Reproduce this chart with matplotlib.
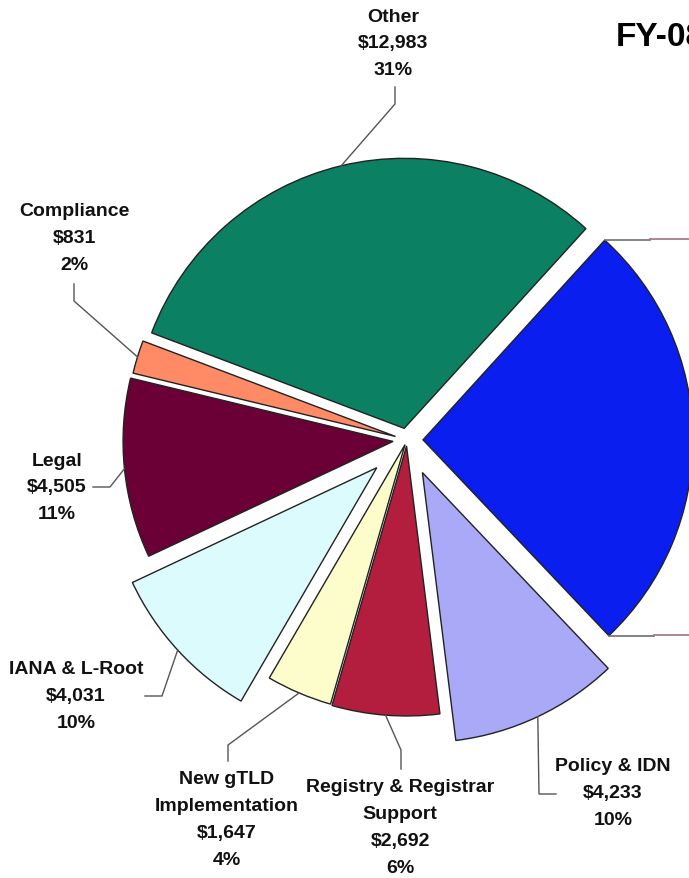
import numpy as np
import matplotlib.pyplot as plt

W, H = 689, 879  # output size in pixels (dpi 100)

# Data (USD thousands). First slice is the part broken out to the right (label off-image).
categories = ['Detail', 'Other', 'Compliance', 'Legal', 'IANA & L-Root',
              'New gTLD\nImplementation', 'Registry & Registrar\nSupport', 'Policy & IDN']
values = [10958, 12983, 831, 4505, 4031, 1647, 2692, 4233]
colors = ['#0a1ef0', '#0b8062', '#ff8a66', '#6b0036', '#dcfbfc', '#fdfccb', '#b31e3e', '#a9a9f7']
explode = [16, 12, 12, 14, 41, 5, 6, 36]  # in pixels, pie radius is 270

# label layout in image pixels: text centre x, first line y, leader elbow points
label_pos = {
    'Other': (393, 17, [(395, 88), (395, 105)]),
    'Compliance': (74, 212, [(74, 285), (74, 302)]),
    'Legal': (57, 461, [(93, 488), (110, 488)]),
    'IANA & L-Root': (76, 670, [(145, 697), (162, 697)]),
    'New gTLD\nImplementation': (227, 780, [(228, 762), (228, 746)]),
    'Registry & Registrar\nSupport': (400, 788, [(401, 770), (401, 751)]),
    'Policy & IDN': (613, 767, [(556, 795), (539, 795)]),
}

plt.rcParams['font.family'] = ['Liberation Sans', 'DejaVu Sans']

fig = plt.figure(figsize=(W / 100, H / 100), dpi=100)
ax = fig.add_axes([0, 0, 1, 1])

wedges, _ = ax.pie(values, colors=colors, explode=explode, radius=270,
                   center=(407, H - 441), startangle=-46.5, counterclock=True,
                   wedgeprops=dict(edgecolor='#222222', linewidth=1))
ax.set_xlim(0, W)
ax.set_ylim(0, H)
ax.set_aspect('equal')
ax.axis('off')

total = sum(values)

# labels with leader lines to the middle of each arc
for w, name, v in zip(wedges, categories, values):
    if name not in label_pos:
        continue
    tx, ty, elbow = label_pos[name]
    lines = name.split('\n') + [f'${v:,}', f'{round(100 * v / total)}%']
    for i, s in enumerate(lines):
        ax.text(tx, H - (ty + i * 26.8), s, ha='center', va='center',
                fontsize=14, fontweight='bold', color='#111111')
    mid = np.deg2rad((w.theta1 + w.theta2) / 2)
    cx, cy = w.center
    ax_pt = (cx + w.r * np.cos(mid), cy + w.r * np.sin(mid))
    xs = [p[0] for p in elbow] + [ax_pt[0]]
    ys = [H - p[1] for p in elbow] + [ax_pt[1]]
    ax.plot(xs, ys, color='#555555', lw=1)

# connector lines of the broken-out slice going off to the right
bw = wedges[0]
for th in (bw.theta1, bw.theta2):
    cx, cy = bw.center
    x0 = cx + bw.r * np.cos(np.deg2rad(th))
    y0 = cy + bw.r * np.sin(np.deg2rad(th))
    ax.plot([x0, x0 + 45], [y0, y0], color='#6e6e6e', lw=1.2)
    ax.plot([x0 + 45, W], [y0 + 1, y0 + 1], color='#a07080', lw=1.2)

ax.text(616, H - 37, 'FY-08', fontsize=24, fontweight='bold', ha='left', va='center')

fig.savefig('out.png', dpi=100)
